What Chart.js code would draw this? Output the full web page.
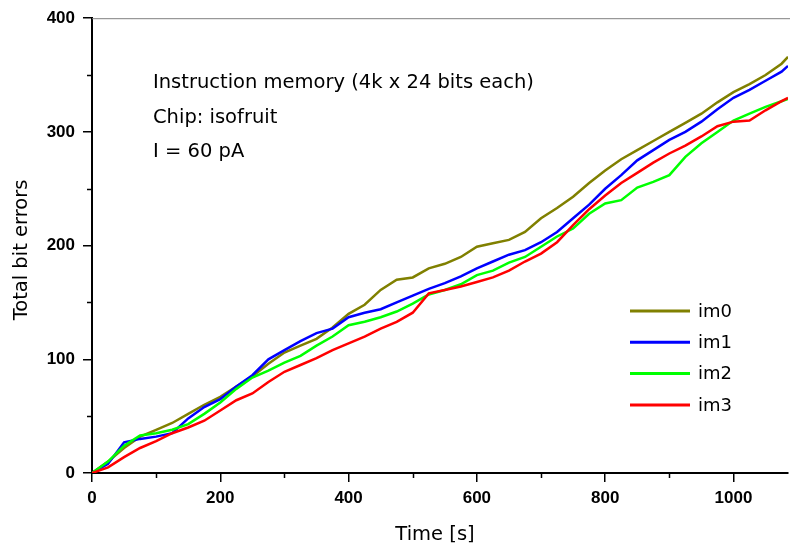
<!DOCTYPE html>
<html>
<head>
<meta charset="utf-8">
<script src="https://cdn.jsdelivr.net/npm/chart.js@4"></script>
<style>
html, body { margin: 0; padding: 0; background: #fff; }
canvas { display: block; }
</style>
</head>
<body>
<canvas id="chart" width="790" height="548"></canvas>
<script>
// sample times [s] and cumulative bit errors per memory block
const times = [0, 25, 50, 75, 100, 125, 150, 175, 200, 225, 250, 275, 300, 325, 350, 375, 400, 425, 450, 475,
    500, 525, 550, 575, 600, 625, 650, 675, 700, 725, 750, 775, 800, 825, 850, 875, 900, 925, 950, 975,
    1000, 1025, 1050, 1075, 1085];
const im0 = [0, 10, 22, 32, 38, 44, 52, 60, 67, 76, 85, 96, 106, 112, 118, 128, 140, 148, 161, 170,
    172, 180, 184, 190, 199, 202, 205, 212, 224, 233, 243, 255, 266, 276, 284, 292, 300, 308, 316, 326,
    335, 342, 350, 360, 366];
const im1 = [0, 8, 27, 30, 32, 35, 48, 58, 65, 76, 86, 100, 108, 116, 123, 127, 137, 141, 144, 150,
    156, 162, 167, 173, 180, 186, 192, 196, 203, 212, 224, 236, 250, 262, 275, 284, 293, 300, 309, 320,
    330, 337, 345, 353, 358];
const im2 = [0, 10, 24, 33, 35, 38, 43, 52, 62, 74, 84, 90, 97, 103, 112, 120, 130, 133, 137, 142,
    149, 157, 161, 166, 174, 178, 185, 190, 199, 208, 215, 228, 237, 240, 251, 256, 262, 278, 290, 300,
    310, 316, 322, 327, 329];
const im3 = [0, 5, 14, 22, 28, 35, 40, 46, 55, 64, 70, 80, 89, 95, 101, 108, 114, 120, 127, 133,
    141, 158, 161, 164, 168, 172, 178, 186, 193, 203, 218, 232, 244, 255, 264, 273, 281, 288, 296, 305,
    309, 310, 319, 327, 330];

const seriesNames = ['im0', 'im1', 'im2', 'im3'];
const seriesValues = [im0, im1, im2, im3];
const seriesColors = ['#808000', '#0000ff', '#00ff00', '#ff0000'];

const xMajorTicks = [0, 200, 400, 600, 800, 1000];
const xMinorTicks = [100, 300, 500, 700, 900];
const yMajorTicks = [0, 100, 200, 300, 400];
const yMinorTicks = [50, 150, 250, 350];

const noteLines = ['Instruction memory (4k x 24 bits each)', 'Chip: isofruit', 'I = 60 pA'];
const xTitle = 'Time [s]';
const yTitle = 'Total bit errors';

const textFont = '19.5px "DejaVu Sans", Verdana, sans-serif';
const legendFont = '18px "DejaVu Sans", Verdana, sans-serif';
const tickFont = { family: '"Liberation Sans", Arial, sans-serif', size: 17, weight: 'bold' };

// minor ticks, top frame line, titles, notes and legend
const decorations = {
    id: 'decorations',
    afterDraw(chart) {
        const { ctx, chartArea: area, scales: { x, y } } = chart;
        ctx.save();

        ctx.strokeStyle = '#000';
        ctx.lineWidth = 1.5;
        ctx.beginPath();
        xMinorTicks.forEach(v => {
            const px = Math.round(x.getPixelForValue(v)) + 0.5;
            ctx.moveTo(px, area.bottom);
            ctx.lineTo(px, area.bottom + 5);
        });
        yMinorTicks.forEach(v => {
            const py = Math.round(y.getPixelForValue(v)) + 0.5;
            ctx.moveTo(area.left, py);
            ctx.lineTo(area.left - 5, py);
        });
        ctx.stroke();

        ctx.strokeStyle = '#808080';
        ctx.lineWidth = 1;
        ctx.beginPath();
        ctx.moveTo(area.left, area.top + 0.5);
        ctx.lineTo(chart.width, area.top + 0.5);
        ctx.stroke();

        ctx.fillStyle = '#000';
        ctx.font = textFont;
        ctx.textBaseline = 'alphabetic';
        ctx.textAlign = 'center';
        ctx.fillText(xTitle, 435, 540);

        ctx.save();
        ctx.translate(27, 250);
        ctx.rotate(-Math.PI / 2);
        ctx.fillText(yTitle, 0, 0);
        ctx.restore();

        ctx.textAlign = 'left';
        noteLines.forEach((line, i) => {
            ctx.fillText(line, 153, 88 + i * 34.5);
        });

        ctx.font = legendFont;
        ctx.textBaseline = 'middle';
        seriesNames.forEach((name, i) => {
            const ly = 311 + i * 31.3;
            ctx.strokeStyle = seriesColors[i];
            ctx.lineWidth = 3;
            ctx.beginPath();
            ctx.moveTo(630, ly);
            ctx.lineTo(690, ly);
            ctx.stroke();
            ctx.fillStyle = '#000';
            ctx.fillText(name, 698, ly + 1);
        });

        ctx.restore();
    }
};

new Chart(document.getElementById('chart'), {
    type: 'line',
    data: {
        datasets: seriesNames.map((name, i) => ({
            label: name,
            data: times.map((t, j) => ({ x: t, y: seriesValues[i][j] })),
            borderColor: seriesColors[i],
            borderWidth: 2.5,
            pointRadius: 0,
            tension: 0,
            fill: false,
            order: seriesNames.length - i
        }))
    },
    options: {
        responsive: false,
        devicePixelRatio: 1,
        animation: false,
        layout: { padding: { top: 18, right: 2, left: 0, bottom: 0 } },
        plugins: {
            legend: { display: false },
            tooltip: { enabled: false }
        },
        scales: {
            x: {
                type: 'linear',
                min: 0,
                max: 1085,
                afterFit: scale => { scale.height = 75; },
                afterBuildTicks: scale => { scale.ticks = xMajorTicks.map(v => ({ value: v })); },
                border: { display: true, color: '#000', width: 2 },
                grid: { drawOnChartArea: false, drawTicks: true, tickLength: 9, color: '#000', lineWidth: 1.5 },
                ticks: { color: '#000', font: tickFont, padding: 6, maxRotation: 0, callback: v => String(v) }
            },
            y: {
                type: 'linear',
                min: 0,
                max: 400,
                afterFit: scale => { scale.width = 92; },
                afterBuildTicks: scale => { scale.ticks = yMajorTicks.map(v => ({ value: v })); },
                border: { display: true, color: '#000', width: 2 },
                grid: { drawOnChartArea: false, drawTicks: true, tickLength: 9, color: '#000', lineWidth: 1.5 },
                ticks: { color: '#000', font: tickFont, padding: 8, callback: v => String(v) }
            }
        }
    },
    plugins: [decorations]
});
</script>
</body>
</html>
